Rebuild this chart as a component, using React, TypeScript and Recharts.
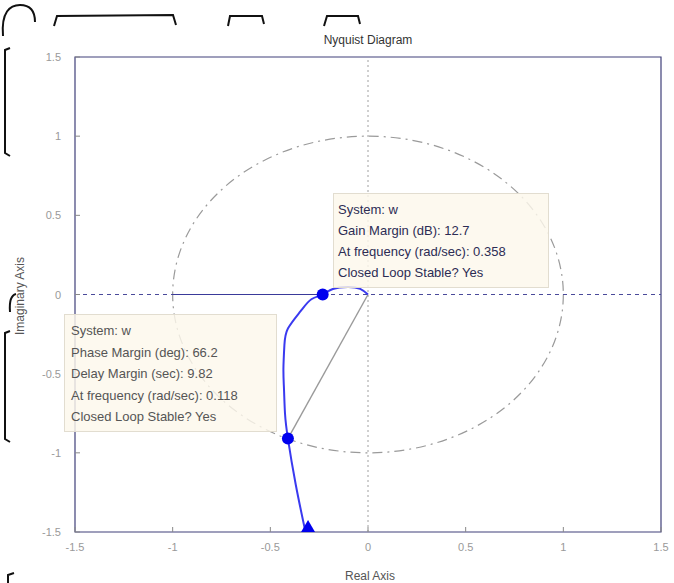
import React from 'react';
import {
  ComposedChart, Line, Scatter, XAxis, YAxis, ReferenceLine, ReferenceArea,
} from 'recharts';

// Nyquist curve of system "w" (real, imaginary)
const curveRe = [-0.32, -0.37, -0.41, -0.425, -0.43, -0.433, -0.428, -0.41, -0.345, -0.29, -0.232, -0.18, -0.10, -0.04, 0];
const curveIm = [-1.5, -1.2, -0.91, -0.75, -0.6, -0.47, -0.32, -0.215, -0.105, -0.03, 0, 0.035, 0.048, 0.035, 0];

const gainMarginPoint = { x: -0.232, y: 0 };
const phaseMarginPoint = { x: -0.41, y: -0.91 };
const arrowPoint = { x: -0.307, y: -1.5 };

const axisTicks = [-1.5, -1, -0.5, 0, 0.5, 1, 1.5];

const gainBox = ['System: w', 'Gain Margin (dB): 12.7', 'At frequency (rad/sec): 0.358', 'Closed Loop Stable? Yes'];
const phaseBox = ['System: w', 'Phase Margin (deg): 66.2', 'Delay Margin (sec): 9.82', 'At frequency (rad/sec): 0.118', 'Closed Loop Stable? Yes'];

const curveData = curveRe.map((x, i) => ({ x, y: curveIm[i] }));

const FONT = '"Liberation Sans Narrow", "Liberation Sans", Arial, sans-serif';

const XTick = (props: any) => {
  const { x, y, payload } = props;
  return (
    <g>
      <line x1={x} x2={x} y1={y - 8} y2={y - 13} stroke="#888" strokeWidth={1} />
      <text x={x} y={y + 11} textAnchor="middle" fill="#999" fontSize={11} fontFamily={FONT}>
        {String(payload.value)}
      </text>
    </g>
  );
};

const YTick = (props: any) => {
  const { x, y, payload } = props;
  return (
    <g>
      <line x1={x + 14} x2={x + 19} y1={y} y2={y} stroke="#888" strokeWidth={1} />
      <text x={x} y={y + 4} textAnchor="end" fill="#999" fontSize={11} fontFamily={FONT}>
        {String(payload.value)}
      </text>
    </g>
  );
};

const UnitCircle = (props: any) => {
  const { x, y, width, height } = props;
  return (
    <ellipse
      cx={x + width / 2}
      cy={y + height / 2}
      rx={width / 2}
      ry={height / 2}
      fill="none"
      stroke="#9a9a9a"
      strokeWidth={1.2}
      strokeDasharray="10 5 2 5"
    />
  );
};

const Triangle = (props: any) => {
  const { cx, cy } = props;
  return <polygon points={`${cx - 7},${cy} ${cx + 7},${cy} ${cx},${cy - 12}`} fill="#0000ee" />;
};

const Dot = (props: any) => {
  const { cx, cy } = props;
  return <circle cx={cx} cy={cy} r={6} fill="#0000ee" />;
};

const boxStyle: React.CSSProperties = {
  position: 'absolute',
  background: 'rgba(252, 248, 236, 0.82)',
  border: '1px solid #e2ddd0',
  boxSizing: 'border-box',
  fontFamily: FONT,
  fontSize: 13,
};

export default function App() {
  return (
    <div style={{ position: 'absolute', left: 0, top: 0, width: 674, height: 583, background: '#fff' }}>
      <ComposedChart width={674} height={583} margin={{ top: 57, right: 13, bottom: 0, left: 0 }}>
        <XAxis
          type="number"
          dataKey="x"
          domain={[-1.5, 1.5]}
          ticks={axisTicks}
          allowDataOverflow
          height={51}
          axisLine={false}
          tickLine={false}
          tickSize={0}
          tickMargin={8}
          tick={<XTick />}
          interval={0}
        />
        <YAxis
          type="number"
          dataKey="y"
          domain={[-1.5, 1.5]}
          ticks={axisTicks}
          allowDataOverflow
          width={75}
          axisLine={false}
          tickLine={false}
          tickSize={0}
          tickMargin={14}
          tick={<YTick />}
          interval={0}
        />
        <ReferenceArea x1={-1} x2={1} y1={-1} y2={1} shape={<UnitCircle />} ifOverflow="visible" />
        <ReferenceLine y={0} stroke="#4a4a9a" strokeDasharray="4 4" strokeWidth={1} />
        <ReferenceLine x={0} stroke="#a0a0a0" strokeDasharray="2 3" strokeWidth={1} />
        <ReferenceLine
          segment={[{ x: -1, y: 0 }, { x: gainMarginPoint.x, y: 0 }]}
          stroke="#3a3a9a"
          strokeWidth={1.2}
        />
        <ReferenceLine
          segment={[{ x: 0, y: 0 }, phaseMarginPoint]}
          stroke="#9a9a9a"
          strokeWidth={1.4}
        />
        <Line
          data={curveData}
          dataKey="y"
          type="natural"
          stroke="#3a3af0"
          strokeWidth={2}
          dot={false}
          isAnimationActive={false}
        />
        <Scatter data={[gainMarginPoint, phaseMarginPoint]} shape={<Dot />} isAnimationActive={false} />
        <Scatter data={[arrowPoint]} shape={<Triangle />} isAnimationActive={false} />
        <ReferenceArea x1={-1.5} x2={1.5} y1={-1.5} y2={1.5} fill="none" fillOpacity={0} stroke="#40407a" strokeWidth={1.2} />
      </ComposedChart>

      <div style={{ ...boxStyle, left: 333, top: 193, width: 216, height: 95, color: '#2c2c54', paddingLeft: 4, paddingTop: 5 }}>
        {gainBox.map((t) => (
          <div key={t} style={{ height: 21, lineHeight: '21px', whiteSpace: 'nowrap' }}>{t}</div>
        ))}
      </div>
      <div style={{ ...boxStyle, left: 64, top: 314, width: 213, height: 118, color: '#555', paddingLeft: 6, paddingTop: 5 }}>
        {phaseBox.map((t) => (
          <div key={t} style={{ height: 21.5, lineHeight: '21.5px', whiteSpace: 'nowrap' }}>{t}</div>
        ))}
      </div>

      <svg width={674} height={583} style={{ position: 'absolute', left: 0, top: 0, pointerEvents: 'none' }}>
        <text x={368} y={44} textAnchor="middle" fontSize={12} fill="#333" fontFamily={FONT}>Nyquist Diagram</text>
        <text x={370} y={580} textAnchor="middle" fontSize={12} fill="#555" fontFamily={FONT}>Real Axis</text>
        <text x={24} y={296} textAnchor="middle" fontSize={12} fill="#555" fontFamily={FONT} transform="rotate(-90 24 296)">Imaginary Axis</text>
        <g fill="none" stroke="#111" strokeWidth={2}>
          <path d="M3,36 C1,12 10,5 20,5 C30,5 35,10 35,22" />
          <path d="M54,26 L57,16 L173,15 L176,25" />
          <path d="M228,26 L230,16 L262,16 L264,24" />
          <path d="M324,26 L327,16 L358,16 L360,24" />
          <path d="M10,48 L5,50 L5,153 L10,156" />
          <path d="M10,312 C9,300 12,295 16,294" />
          <path d="M10,331 L5,333 L5,439 L10,442" />
          <path d="M14,573 L8,575 L8,583" />
        </g>
      </svg>
    </div>
  );
}
